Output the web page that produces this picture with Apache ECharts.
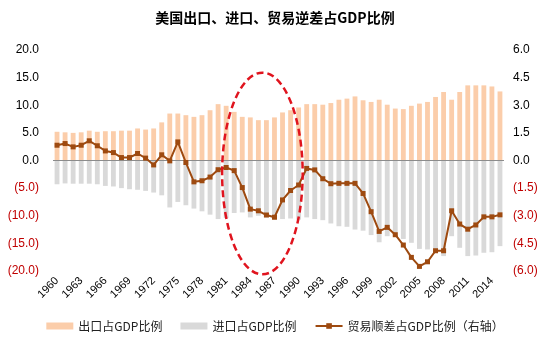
<!DOCTYPE html>
<html>
<head>
<meta charset="utf-8">
<script src="https://cdn.jsdelivr.net/npm/echarts@6/dist/echarts.min.js"></script>
<style>
  html, body { margin: 0; padding: 0; background: #fff; }
  #main { width: 550px; height: 352px; }
</style>
</head>
<body>
<div id="main"></div>
<script>
var years = [];
for (var y = 1960; y <= 2015; y++) years.push(String(y));

// 出口占GDP比例 (%)
var exportsPct = [5.2, 5.1, 5.0, 5.1, 5.4, 5.2, 5.3, 5.3, 5.4, 5.4,
  5.8, 5.6, 5.8, 6.9, 8.5, 8.5, 8.2, 7.9, 8.2, 9.1,
  10.2, 9.9, 8.8, 7.9, 7.8, 7.3, 7.3, 7.8, 8.7, 9.1,
  9.6, 10.2, 10.2, 10.1, 10.4, 11.0, 11.2, 11.6, 10.9, 10.6,
  11.0, 10.1, 9.4, 9.3, 9.9, 10.3, 10.6, 11.5, 12.4, 11.0,
  12.4, 13.6, 13.6, 13.6, 13.4, 12.5];

// 进口占GDP比例 (%)，画在零线下方
var importsPct = [-4.3, -4.15, -4.2, -4.2, -4.2, -4.3, -4.6, -4.7, -5.0, -5.2,
  -5.3, -5.5, -5.8, -6.3, -8.5, -7.5, -8.1, -8.7, -9.2, -9.8,
  -10.6, -10.4, -9.5, -9.4, -10.3, -10.0, -10.3, -10.7, -10.6, -10.5,
  -10.7, -10.3, -10.6, -10.8, -11.4, -11.9, -12.0, -12.5, -12.7, -13.5,
  -14.8, -13.7, -13.7, -14.2, -14.9, -16.0, -16.1, -16.1, -17.3, -13.7,
  -15.8, -17.3, -17.2, -16.7, -16.6, -15.5];

// 贸易顺差占GDP比例 (%)，右轴
var balancePct = [0.83, 0.92, 0.74, 0.83, 1.07, 0.8, 0.52, 0.43, 0.16, 0.16,
  0.38, 0.13, -0.24, 0.31, -0.02, 1.01, -0.11, -1.16, -1.1, -0.9,
  -0.5, -0.38, -0.55, -1.47, -2.64, -2.73, -2.96, -3.08, -2.14, -1.63,
  -1.33, -0.43, -0.51, -0.99, -1.26, -1.24, -1.24, -1.24, -1.79, -2.78,
  -3.85, -3.63, -4.03, -4.59, -5.26, -5.75, -5.5, -4.9, -4.9, -2.73,
  -3.45, -3.73, -3.5, -3.06, -3.06, -2.95];

var red = '#C00000';
function fmt(v) {
  if (v < 0) return '{neg|(' + (-v).toFixed(1) + ')}';
  return '{pos|' + v.toFixed(1) + '}';
}
var labelRich = {
  pos: { color: '#000', fontSize: 12, fontFamily: 'Liberation Sans' },
  neg: { color: red, fontSize: 12, fontFamily: 'Liberation Sans' }
};

var chart = echarts.init(document.getElementById('main'), null, { renderer: 'canvas' });

var options = {
  animation: false,
  title: {
    text: '美国出口、进口、贸易逆差占GDP比例',
    left: 'center',
    top: 6,
    textStyle: {
      fontFamily: 'Noto Sans CJK SC',
      fontSize: 14,
      fontWeight: 'bold',
      color: '#000'
    }
  },
  legend: {
    bottom: 15,
    left: 'center',
    itemGap: 18,
    itemWidth: 27,
    itemHeight: 7,
    textStyle: { fontFamily: 'Noto Sans CJK SC', fontSize: 12, color: '#222' },
    data: [
      { name: '出口占GDP比例', icon: 'rect' },
      { name: '进口占GDP比例', icon: 'rect' },
      { name: '贸易顺差占GDP比例（右轴）' }
    ]
  },
  grid: { left: 53, right: 46, top: 50, bottom: 81 },
  xAxis: {
    type: 'category',
    data: years,
    axisLine: { show: false },
    axisTick: { show: false },
    axisLabel: {
      interval: 2,
      rotate: 45,
      margin: 8,
      fontFamily: 'Liberation Sans',
      fontSize: 11,
      color: '#000'
    }
  },
  yAxis: [
    {
      type: 'value',
      min: -20, max: 20, interval: 5,
      splitLine: { show: false },
      axisLine: { show: false },
      axisTick: { show: false },
      axisLabel: { margin: 14, formatter: fmt, rich: labelRich }
    },
    {
      type: 'value',
      min: -6, max: 6, interval: 1.5,
      splitLine: { show: false },
      axisLine: { show: false },
      axisTick: { show: false },
      axisLabel: { margin: 9, formatter: fmt, rich: labelRich }
    }
  ],
  series: [
    {
      name: '出口占GDP比例',
      type: 'bar',
      data: exportsPct,
      barWidth: '60%',
      barGap: '-100%',
      itemStyle: { color: '#FBCDAA' },
      markLine: {
        silent: true,
        symbol: 'none',
        label: { show: false },
        lineStyle: { color: '#8c8c8c', width: 1, type: 'solid' },
        data: [{ yAxis: 0 }]
      }
    },
    {
      name: '进口占GDP比例',
      type: 'bar',
      data: importsPct,
      barWidth: '60%',
      barGap: '-100%',
      itemStyle: { color: '#D9D9D9' }
    },
    {
      name: '贸易顺差占GDP比例（右轴）',
      type: 'line',
      yAxisIndex: 1,
      data: balancePct,
      symbol: 'rect',
      symbolSize: 5,
      lineStyle: { color: '#9E4A10', width: 2 },
      itemStyle: { color: '#9E4A10' },
      z: 5
    }
  ]
};
chart.setOption(options);

// 红色虚线椭圆标注 1980年代中期，位置由坐标轴换算
var p25 = chart.convertToPixel({ xAxisIndex: 0, yAxisIndex: 0 }, [25, -2.35]);
var p26 = chart.convertToPixel({ xAxisIndex: 0, yAxisIndex: 0 }, [26, -2.35]);
var pTop = chart.convertToPixel({ xAxisIndex: 0, yAxisIndex: 0 }, [25, 15.9]);
var step = p26[0] - p25[0];
chart.setOption({
  graphic: [{
    type: 'ellipse',
    silent: true,
    z: 10,
    shape: {
      cx: (p25[0] + p26[0]) / 2,
      cy: p25[1],
      rx: step * 5,
      ry: p25[1] - pTop[1]
    },
    style: {
      fill: 'none',
      stroke: '#E0141E',
      lineWidth: 2.5,
      lineDash: [7, 4]
    }
  }]
});
</script>
</body>
</html>
